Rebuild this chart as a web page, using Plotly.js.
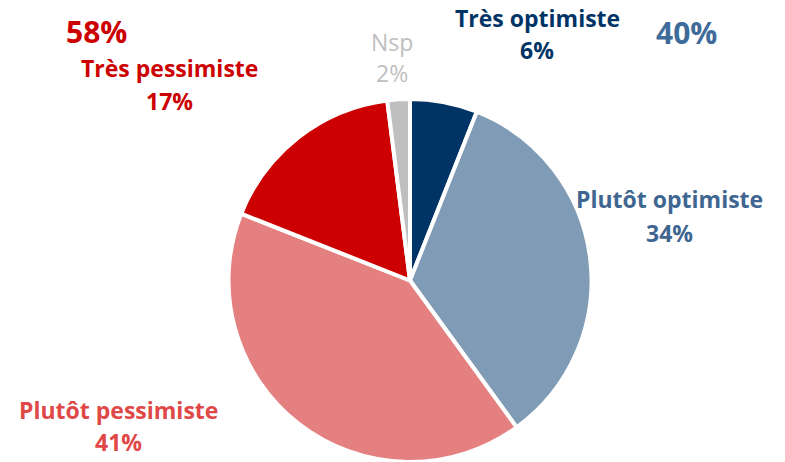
<!DOCTYPE html>
<html>
<head>
<meta charset="utf-8">
<script src="https://cdn.plot.ly/plotly-3.0.1.min.js"></script>
<style>html,body{margin:0;padding:0;background:#fff;}#chart{width:785px;height:462px;}</style>
</head>
<body>
<div id="chart"></div>
<script>
// Data
const categories = ["Très optimiste", "Plutôt optimiste", "Plutôt pessimiste", "Très pessimiste", "Nsp"];
const values = [6, 34, 41, 17, 2];
const sliceColors = ["#003466", "#7f9bb5", "#e48080", "#cc0000", "#bfbfbf"];
const labelColors = ["#003466", "#3f6690", "#e04848", "#cc0000", "#bfbfbf"];
const optimistTotal = values[0] + values[1];
const pessimistTotal = values[2] + values[3];

const W = 785, H = 462;
const FONT = "'Open Sans', Lato, sans-serif";
function px(x) { return x / W; }
function py(y) { return 1 - y / H; }

// label positions (pixel centres: name line, value line)
const labelPos = [
  {x: 537, y1: 18, y2: 50, bold: true},
  {x: 669, y1: 199, y2: 233, bold: true},
  {x: 118, y1: 410, y2: 442, bold: true},
  {x: 169, y1: 68, y2: 101, bold: true},
  {x: 392, y1: 42, y2: 73, bold: false}
];

const annotations = [];
categories.forEach((c, i) => {
  const p = labelPos[i];
  const fw = p.bold ? "bold" : "normal";
  annotations.push({xref: "paper", yref: "paper", x: px(p.x), y: py(p.y1), xanchor: "center", yanchor: "middle",
    showarrow: false, text: c, font: {family: FONT, size: 23, color: labelColors[i], weight: fw}});
  annotations.push({xref: "paper", yref: "paper", x: px(p.x), y: py(p.y2), xanchor: "center", yanchor: "middle",
    showarrow: false, text: values[i] + "%", font: {family: FONT, size: 23, color: labelColors[i], weight: fw}});
});
annotations.push({xref: "paper", yref: "paper", x: px(96), y: py(31), xanchor: "center", yanchor: "middle",
  showarrow: false, text: pessimistTotal + "%", font: {family: FONT, size: 30, color: "#cc0000", weight: "bold"}});
annotations.push({xref: "paper", yref: "paper", x: px(686), y: py(33), xanchor: "center", yanchor: "middle",
  showarrow: false, text: optimistTotal + "%", font: {family: FONT, size: 30, color: "#3f6b9a", weight: "bold"}});

const trace = {
  type: "pie",
  labels: categories,
  values: values,
  sort: false,
  direction: "clockwise",
  rotation: 0,
  textinfo: "none",
  hoverinfo: "label+percent",
  marker: {colors: sliceColors, line: {color: "#ffffff", width: 4}},
  domain: {x: [px(228), px(592)], y: [0, py(99)]}
};

Plotly.newPlot("chart", [trace], {
  width: W, height: H,
  margin: {l: 0, r: 0, t: 0, b: 0},
  paper_bgcolor: "#ffffff",
  showlegend: false,
  annotations: annotations
}, {displayModeBar: false, staticPlot: true});
</script>
</body>
</html>
